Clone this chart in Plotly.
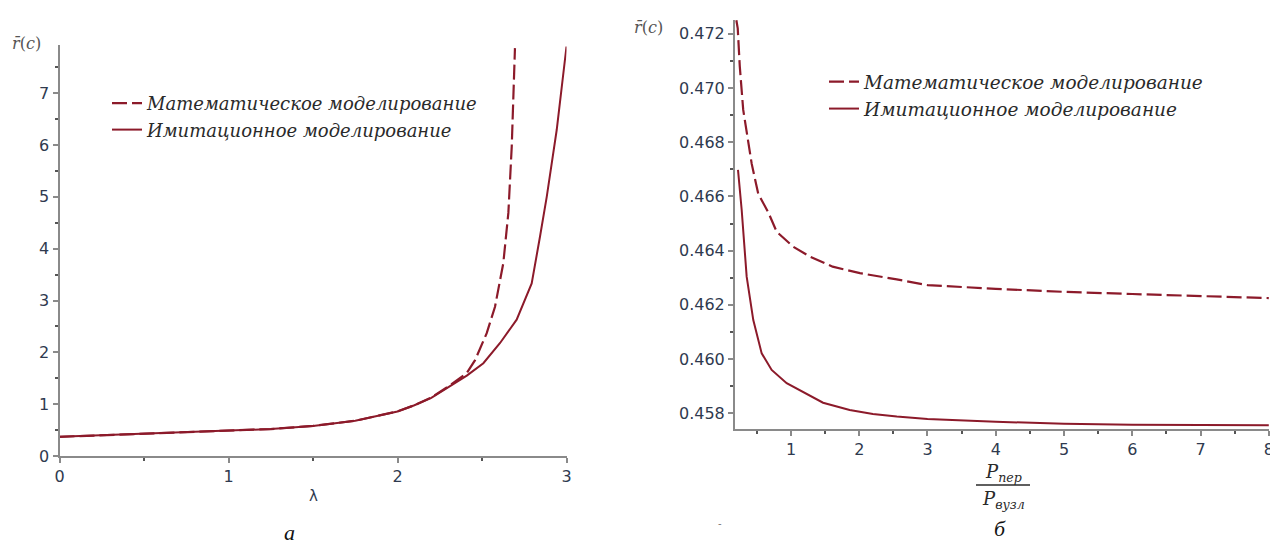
import plotly.graph_objects as go

W, H = 1270, 549

# ---- Panel a: r(c) vs lambda ----
lam_math = [0, 0.25, 0.5, 0.75, 1.0, 1.25, 1.5, 1.75, 2.0, 2.1, 2.2, 2.3, 2.41, 2.459, 2.528, 2.577, 2.626, 2.656, 2.676, 2.695]
r_math = [0.37, 0.40, 0.43, 0.45, 0.48, 0.52, 0.58, 0.68, 0.86, 0.98, 1.13, 1.34, 1.60, 1.85, 2.37, 2.88, 3.72, 4.69, 5.97, 7.87]
lam_sim = [0, 0.25, 0.5, 0.75, 1.0, 1.25, 1.5, 1.75, 2.0, 2.1, 2.2, 2.3, 2.41, 2.508, 2.607, 2.705, 2.794, 2.843, 2.883, 2.942, 3.0]
r_sim = [0.37, 0.40, 0.43, 0.45, 0.48, 0.52, 0.58, 0.68, 0.86, 0.98, 1.12, 1.32, 1.55, 1.79, 2.18, 2.63, 3.33, 4.23, 5.0, 6.29, 7.9]

# ---- Panel b: r(c) vs P_per/P_vuzl ----
p_math = [0.2, 0.22, 0.25, 0.28, 0.30, 0.425, 0.52, 0.67, 0.79, 1.03, 1.28, 1.61, 2.01, 2.55, 3, 4, 5, 6, 7, 8]
r2_math = [0.4725, 0.4722, 0.4708, 0.4699, 0.4692, 0.4672, 0.4661, 0.4654, 0.4647, 0.46415, 0.46378, 0.46341,
           0.46317, 0.46294, 0.46273, 0.46259, 0.46248, 0.4624, 0.46233, 0.46225]
p_sim = [0.224, 0.278, 0.351, 0.448, 0.571, 0.717, 0.937, 1.13, 1.47, 1.86, 2.2, 2.55, 3, 4, 5, 6, 7, 8]
r2_sim = [0.46698, 0.4655, 0.46304, 0.46144, 0.46021, 0.4596, 0.45911, 0.45886, 0.45839, 0.45812, 0.45797,
          0.45788, 0.45779, 0.45769, 0.45761, 0.45758, 0.45756, 0.45756]

name_math = "Математическое моделирование"
name_sim = "Имитационное моделирование"

RED = "#8c1a2a"
AX = "#8a8a8a"
TICK = "#2f3a4f"
TXT = "#2a2a2a"
SERIF = "DejaVu Serif"


def px(x):
    return x / W


def py(y):
    return 1 - y / H


fig = go.Figure()
fig.add_trace(go.Scatter(x=lam_sim, y=r_sim, mode="lines", name=name_sim,
                         line=dict(color=RED, width=2), xaxis="x", yaxis="y", legend="legend",
                         legendrank=2))
fig.add_trace(go.Scatter(x=lam_math, y=r_math, mode="lines", name=name_math,
                         line=dict(color=RED, width=2.2, dash="15px,5px"), xaxis="x", yaxis="y",
                         legend="legend", legendrank=1))
fig.add_trace(go.Scatter(x=p_math, y=r2_math, mode="lines", name=name_math,
                         line=dict(color=RED, width=2.2, dash="15px,5px"), xaxis="x2", yaxis="y2",
                         legend="legend2", legendrank=1))
fig.add_trace(go.Scatter(x=p_sim, y=r2_sim, mode="lines", name=name_sim,
                         line=dict(color=RED, width=2), xaxis="x2", yaxis="y2", legend="legend2",
                         legendrank=2))

axis_common = dict(showline=True, linecolor=AX, linewidth=2, ticks="outside", ticklen=5,
                   tickwidth=1.5, tickcolor=AX, showgrid=False, zeroline=False, automargin=False,
                   ticklabeloverflow="allow",
                   tickfont=dict(family="DejaVu Sans", size=16, color=TICK))
minor_common = dict(ticks="outside", ticklen=3, tickcolor="#555")

fig.update_layout(
    width=W, height=H,
    margin=dict(l=0, r=0, t=0, b=0, autoexpand=False),
    paper_bgcolor="white", plot_bgcolor="white",
    xaxis=dict(domain=[px(59.5), px(566.5)], range=[0, 3], anchor="y", dtick=1,
               minor=dict(dtick=0.5, **minor_common), **axis_common),
    yaxis=dict(domain=[py(456), py(45)], range=[0, 7.93], anchor="x", dtick=1,
               minor=dict(dtick=0.5, **minor_common), **axis_common),
    xaxis2=dict(domain=[px(735), px(1269)], range=[0.18, 8.003], anchor="y2", dtick=1, tick0=0,
                minor=dict(dtick=0.5, **minor_common), **axis_common),
    yaxis2=dict(domain=[py(429), py(20)], range=[0.45742, 0.47251], anchor="x2", dtick=0.002,
                tick0=0.458, tickformat=".3f",
                minor=dict(dtick=0.001, **minor_common), **axis_common),
    legend=dict(x=px(107), y=py(85), xanchor="left", yanchor="top", bgcolor="rgba(0,0,0,0)",
                font=dict(family=SERIF, size=18, color=TXT, style="italic"), tracegroupgap=0),
    legend2=dict(x=px(824), y=py(63), xanchor="left", yanchor="top", bgcolor="rgba(0,0,0,0)",
                 font=dict(family=SERIF, size=18.5, color=TXT, style="italic"), tracegroupgap=0),
    showlegend=True,
)

ann = [
    dict(x=px(26), y=py(44), text="<i>r̄</i>(<i>c</i>)", font=dict(family=SERIF, size=16, color="#555")),
    dict(x=px(648), y=py(27), text="<i>r̄</i>(<i>c</i>)", font=dict(family=SERIF, size=16, color="#555")),
    dict(x=px(313), y=py(496), text="λ", font=dict(family="DejaVu Sans", size=15, color=TICK)),
    dict(x=px(1003), y=py(473), text="<i>P</i><sub><i>пер</i></sub>", font=dict(family=SERIF, size=18, color=TXT)),
    dict(x=px(1003), y=py(500), text="<i>P</i><sub><i>вузл</i></sub>", font=dict(family=SERIF, size=18, color=TXT)),
    dict(x=px(289), y=py(532), text="<i>а</i>", font=dict(family="Liberation Serif", size=22, color="#111")),
    dict(x=px(1000), y=py(528), text="<i>б</i>", font=dict(family="Liberation Serif", size=22, color="#111")),
    dict(x=px(720), y=py(523), text="-", font=dict(family="DejaVu Sans", size=10, color="#777")),
]
for a in ann:
    a.update(xref="paper", yref="paper", showarrow=False, xanchor="center", yanchor="middle")
fig.update_layout(annotations=ann)

fig.add_shape(type="line", xref="paper", yref="paper", x0=px(976), x1=px(1030), y0=py(485), y1=py(485),
              line=dict(color=TXT, width=1.5))

# remove the page's default 8px body margin so the figure fills the window exactly
fig.write_html("out.html", config={"displayModeBar": False},
               post_script="document.body.style.margin='0';document.body.style.overflow='hidden';")
